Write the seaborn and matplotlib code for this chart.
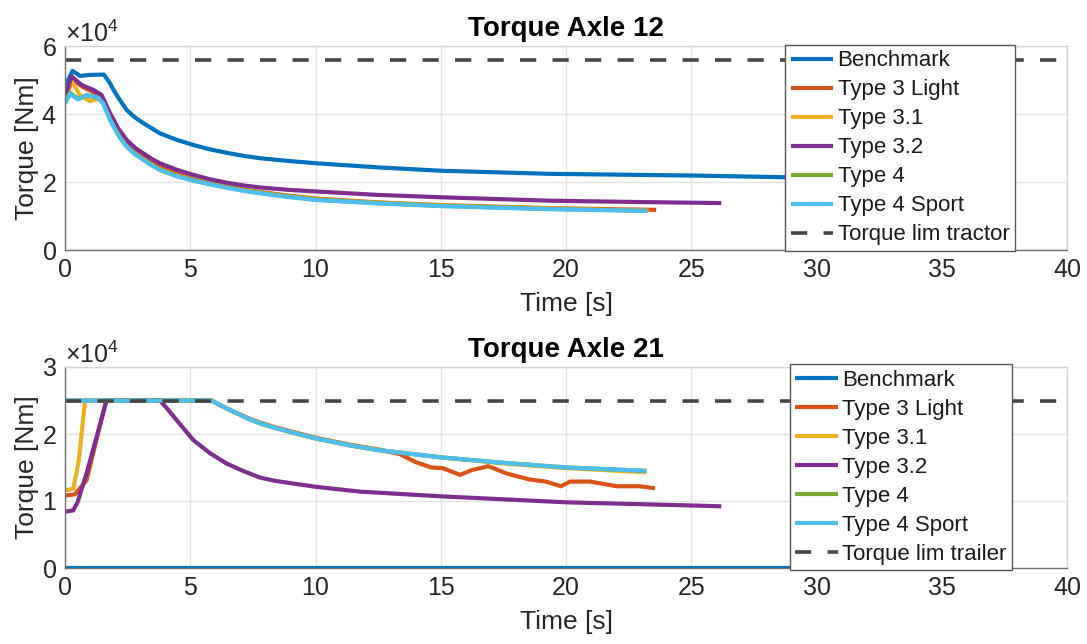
import numpy as np
import pandas as pd
import matplotlib
matplotlib.use("Agg")
import matplotlib.pyplot as plt
import seaborn as sns
from matplotlib.ticker import ScalarFormatter

# ---------------- data (torque in units of 1e4 Nm, time in s) ----------------
series_names = ["Benchmark", "Type 3 Light", "Type 3.1", "Type 3.2", "Type 4", "Type 4 Sport"]
series_colors = ["#0072BD", "#D95319", "#EDB120", "#7E2F8E", "#77AC30", "#4DBEEE"]

# Axle 12
a12_bench_t = [0, 0.3, 0.6, 1.0, 1.55, 1.66, 1.80, 1.93, 2.13, 2.46, 2.79, 3.13, 3.46, 3.79, 4.46, 5.12, 5.79, 6.45, 7.12, 7.78, 8.9, 10.05, 12.5, 15.04, 19.36, 25.08, 28.74, 36.0]
a12_bench_v = [4.80, 5.27, 5.12, 5.15, 5.16, 5.05, 4.90, 4.72, 4.48, 4.12, 3.90, 3.73, 3.58, 3.43, 3.24, 3.09, 2.96, 2.86, 2.77, 2.70, 2.62, 2.55, 2.43, 2.33, 2.24, 2.19, 2.14, 2.09]

a12_t3l_t = [0, 0.3, 0.7, 1.1, 1.45, 1.8, 2.13, 2.46, 2.79, 3.13, 3.46, 3.79, 4.46, 5.12, 5.79, 6.45, 7.12, 7.78, 8.9, 10.05, 12.5, 15.04, 19.36, 23.6]
a12_t3l_v = [4.45, 5.02, 4.80, 4.65, 4.52, 3.98, 3.52, 3.18, 2.93, 2.75, 2.58, 2.44, 2.24, 2.08, 1.96, 1.87, 1.78, 1.71, 1.60, 1.51, 1.40, 1.32, 1.23, 1.18]

a12_t31_t = [0, 0.25, 0.6, 1.0, 1.35, 1.55, 1.8, 2.13, 2.46, 2.79, 3.13, 3.46, 3.79, 4.46, 5.12, 5.79, 6.45, 7.12, 7.78, 8.9, 10.05, 12.5, 15.04, 19.36, 23.3]
a12_t31_v = [4.55, 5.00, 4.55, 4.38, 4.45, 4.35, 3.85, 3.40, 3.06, 2.84, 2.67, 2.51, 2.37, 2.19, 2.06, 1.94, 1.85, 1.76, 1.69, 1.58, 1.49, 1.39, 1.31, 1.22, 1.16]

a12_t32_t = [0, 0.27, 0.67, 1.13, 1.46, 1.8, 2.13, 2.46, 2.79, 3.13, 3.46, 3.79, 4.46, 5.12, 5.79, 6.45, 7.12, 7.78, 8.9, 10.05, 12.5, 15.04, 19.36, 23.0, 26.2]
a12_t32_v = [4.56, 5.10, 4.85, 4.71, 4.56, 4.02, 3.57, 3.24, 3.01, 2.84, 2.68, 2.55, 2.36, 2.21, 2.08, 1.98, 1.90, 1.84, 1.77, 1.72, 1.62, 1.55, 1.45, 1.41, 1.38]

a12_t4_t = [0, 0.2, 0.53, 0.87, 1.33, 1.53, 1.8, 2.13, 2.46, 2.79, 3.13, 3.46, 3.79, 4.46, 5.12, 5.79, 6.45, 7.12, 7.78, 8.9, 10.05, 12.5, 15.04, 19.36, 23.2]
a12_t4_v = [4.35, 4.62, 4.45, 4.55, 4.47, 4.30, 3.84, 3.39, 3.05, 2.83, 2.66, 2.50, 2.36, 2.18, 2.05, 1.94, 1.84, 1.75, 1.68, 1.57, 1.48, 1.38, 1.30, 1.21, 1.15]

a12_t4s_t = [0, 0.2, 0.53, 0.87, 1.33, 1.53, 1.8, 2.13, 2.46, 2.79, 3.13, 3.46, 3.79, 4.46, 5.12, 5.79, 6.45, 7.12, 7.78, 8.9, 10.05, 12.5, 15.04, 19.36, 23.25]
a12_t4s_v = [4.31, 4.59, 4.43, 4.56, 4.48, 4.31, 3.82, 3.37, 3.04, 2.82, 2.65, 2.49, 2.35, 2.17, 2.04, 1.93, 1.83, 1.74, 1.67, 1.56, 1.47, 1.37, 1.29, 1.20, 1.15]

a12_lim_t = [0, 40]
a12_lim_v = [5.6, 5.6]

# Axle 21
a21_bench_t = [0, 36.0]
a21_bench_v = [0, 0]

a21_t3l_t = [0, 0.4, 0.86, 1.64, 5.85, 6.3, 6.8, 7.3, 7.78, 8.4, 9.0, 10.05, 11.38, 12.5, 13.37, 14.0, 14.63, 15.08, 15.77, 16.23, 16.9, 17.63, 18.56, 19.2, 19.8, 20.16, 20.96, 22.02, 22.95, 23.55]
a21_t3l_v = [1.08, 1.10, 1.31, 2.50, 2.50, 2.41, 2.32, 2.24, 2.17, 2.10, 2.04, 1.94, 1.84, 1.77, 1.70, 1.58, 1.50, 1.49, 1.39, 1.46, 1.52, 1.41, 1.32, 1.29, 1.22, 1.29, 1.29, 1.22, 1.22, 1.19]

a21_t31_t = [0, 0.33, 0.55, 0.8, 5.85, 6.3, 6.8, 7.3, 7.78, 8.4, 9.0, 10.05, 11.38, 12.5, 15.04, 17.5, 20.03, 23.2]
a21_t31_v = [1.16, 1.18, 1.60, 2.50, 2.50, 2.41, 2.32, 2.23, 2.16, 2.09, 2.03, 1.93, 1.83, 1.76, 1.65, 1.56, 1.49, 1.43]

a21_t32_t = [0, 0.33, 0.5, 0.86, 1.66, 3.79, 4.1, 4.45, 5.12, 5.8, 6.45, 7.1, 7.78, 8.4, 9.12, 10.05, 11.78, 15.0, 20.03, 25.35, 26.2]
a21_t32_v = [0.84, 0.86, 0.98, 1.41, 2.50, 2.50, 2.37, 2.21, 1.91, 1.71, 1.56, 1.45, 1.35, 1.30, 1.26, 1.21, 1.14, 1.07, 0.98, 0.93, 0.92]

a21_t4_t = [0, 5.85, 6.3, 6.8, 7.3, 7.78, 8.4, 9.0, 10.05, 11.38, 12.5, 15.04, 17.5, 20.03, 23.2]
a21_t4_v = [2.50, 2.50, 2.41, 2.32, 2.23, 2.16, 2.09, 2.03, 1.93, 1.83, 1.76, 1.65, 1.57, 1.50, 1.45]

a21_t4s_t = [0, 5.85, 6.3, 6.8, 7.3, 7.78, 8.4, 9.0, 10.05, 11.38, 12.5, 15.04, 17.5, 20.03, 23.22]
a21_t4s_v = [2.50, 2.50, 2.41, 2.32, 2.23, 2.16, 2.09, 2.03, 1.93, 1.83, 1.76, 1.65, 1.57, 1.50, 1.45]

a21_lim_t = [0, 40]
a21_lim_v = [2.5, 2.5]

x_ticks = [0, 5, 10, 15, 20, 25, 30, 35, 40]
y_ticks_12 = [0, 2, 4, 6]
y_ticks_21 = [0, 1, 2, 3]
SCALE = 1e4

panels = [
    dict(title="Torque Axle 12",
         series=[(a12_bench_t, a12_bench_v), (a12_t3l_t, a12_t3l_v), (a12_t31_t, a12_t31_v),
                 (a12_t32_t, a12_t32_v), (a12_t4_t, a12_t4_v), (a12_t4s_t, a12_t4s_v)],
         lim=(a12_lim_t, a12_lim_v), lim_name="Torque lim tractor", yticks=y_ticks_12,
         leg_anchor=(0.948, 1.006)),
    dict(title="Torque Axle 21",
         series=[(a21_bench_t, a21_bench_v), (a21_t3l_t, a21_t3l_v), (a21_t31_t, a21_t31_v),
                 (a21_t32_t, a21_t32_v), (a21_t4_t, a21_t4_v), (a21_t4s_t, a21_t4s_v)],
         lim=(a21_lim_t, a21_lim_v), lim_name="Torque lim trailer", yticks=y_ticks_21,
         leg_anchor=(0.945, 1.015)),
]

# ---------------- style ----------------
sns.set_theme(style="white")
plt.rcParams["font.family"] = ["Liberation Sans", "DejaVu Sans"]
plt.rcParams["mathtext.fontset"] = "custom"
plt.rcParams["mathtext.rm"] = "Liberation Sans"

W, H = 1087, 644
fig = plt.figure(figsize=(W / 100, H / 100), dpi=100)
axes_px = [(65, 46, 1067, 250), (65, 367, 1067, 568)]  # left, top, right, bottom

for p, (l, t, r, b) in zip(panels, axes_px):
    ax = fig.add_axes([l / W, 1 - b / H, (r - l) / W, (b - t) / H])
    for name, color, (tt, vv) in zip(series_names, series_colors, p["series"]):
        df = pd.DataFrame({"t": tt, "v": np.array(vv) * SCALE})
        sns.lineplot(data=df, x="t", y="v", ax=ax, color=color, lw=3,
                     sort=False, estimator=None, label=name,
                     solid_joinstyle="round", solid_capstyle="butt")
    lt, lv = p["lim"]
    dfl = pd.DataFrame({"t": lt, "v": np.array(lv) * SCALE})
    sns.lineplot(data=dfl, x="t", y="v", ax=ax, color="#454545", lw=2.6,
                 sort=False, estimator=None, label=p["lim_name"],
                 linestyle=(0, (4.5, 4.5)))

    ax.set_xlim(0, 40)
    ax.set_ylim(0, p["yticks"][-1] * SCALE)
    ax.set_xticks(x_ticks)
    ax.set_yticks([v * SCALE for v in p["yticks"]])
    fmt = ScalarFormatter(useMathText=True)
    fmt.set_powerlimits((4, 4))
    ax.yaxis.set_major_formatter(fmt)
    ax.yaxis.get_offset_text().set_fontsize(18)
    ax.yaxis.get_offset_text().set_color("#262626")

    ax.grid(True, color="#e3e3e3", lw=1)
    ax.set_axisbelow(True)
    for s in ["left", "bottom"]:
        ax.spines[s].set_color("#707070")
        ax.spines[s].set_linewidth(1.0)
    for s in ["top", "right"]:
        ax.spines[s].set_color("#d5d5d5")
        ax.spines[s].set_linewidth(1.0)
    ax.tick_params(direction="in", length=7, width=1, color="#707070",
                   labelsize=18, labelcolor="#262626", pad=6)
    ax.set_xlabel("Time [s]", fontsize=19, color="#262626", labelpad=7)
    ax.set_ylabel("Torque [Nm]", fontsize=19, color="#262626", labelpad=2)
    ax.set_title(p["title"], fontsize=20, fontweight="bold", color="black", pad=7)

    leg = ax.legend(loc="upper right", bbox_to_anchor=p["leg_anchor"], borderaxespad=0,
                    fontsize=16, frameon=True, fancybox=False, framealpha=1,
                    handlelength=1.9, handletextpad=0.2, labelspacing=0.36,
                    borderpad=0.25)
    leg.get_frame().set_edgecolor("#555555")
    leg.get_frame().set_linewidth(1.0)
    for txt in leg.get_texts():
        txt.set_color("#1a1a1a")

fig.savefig("out.png", dpi=100)
